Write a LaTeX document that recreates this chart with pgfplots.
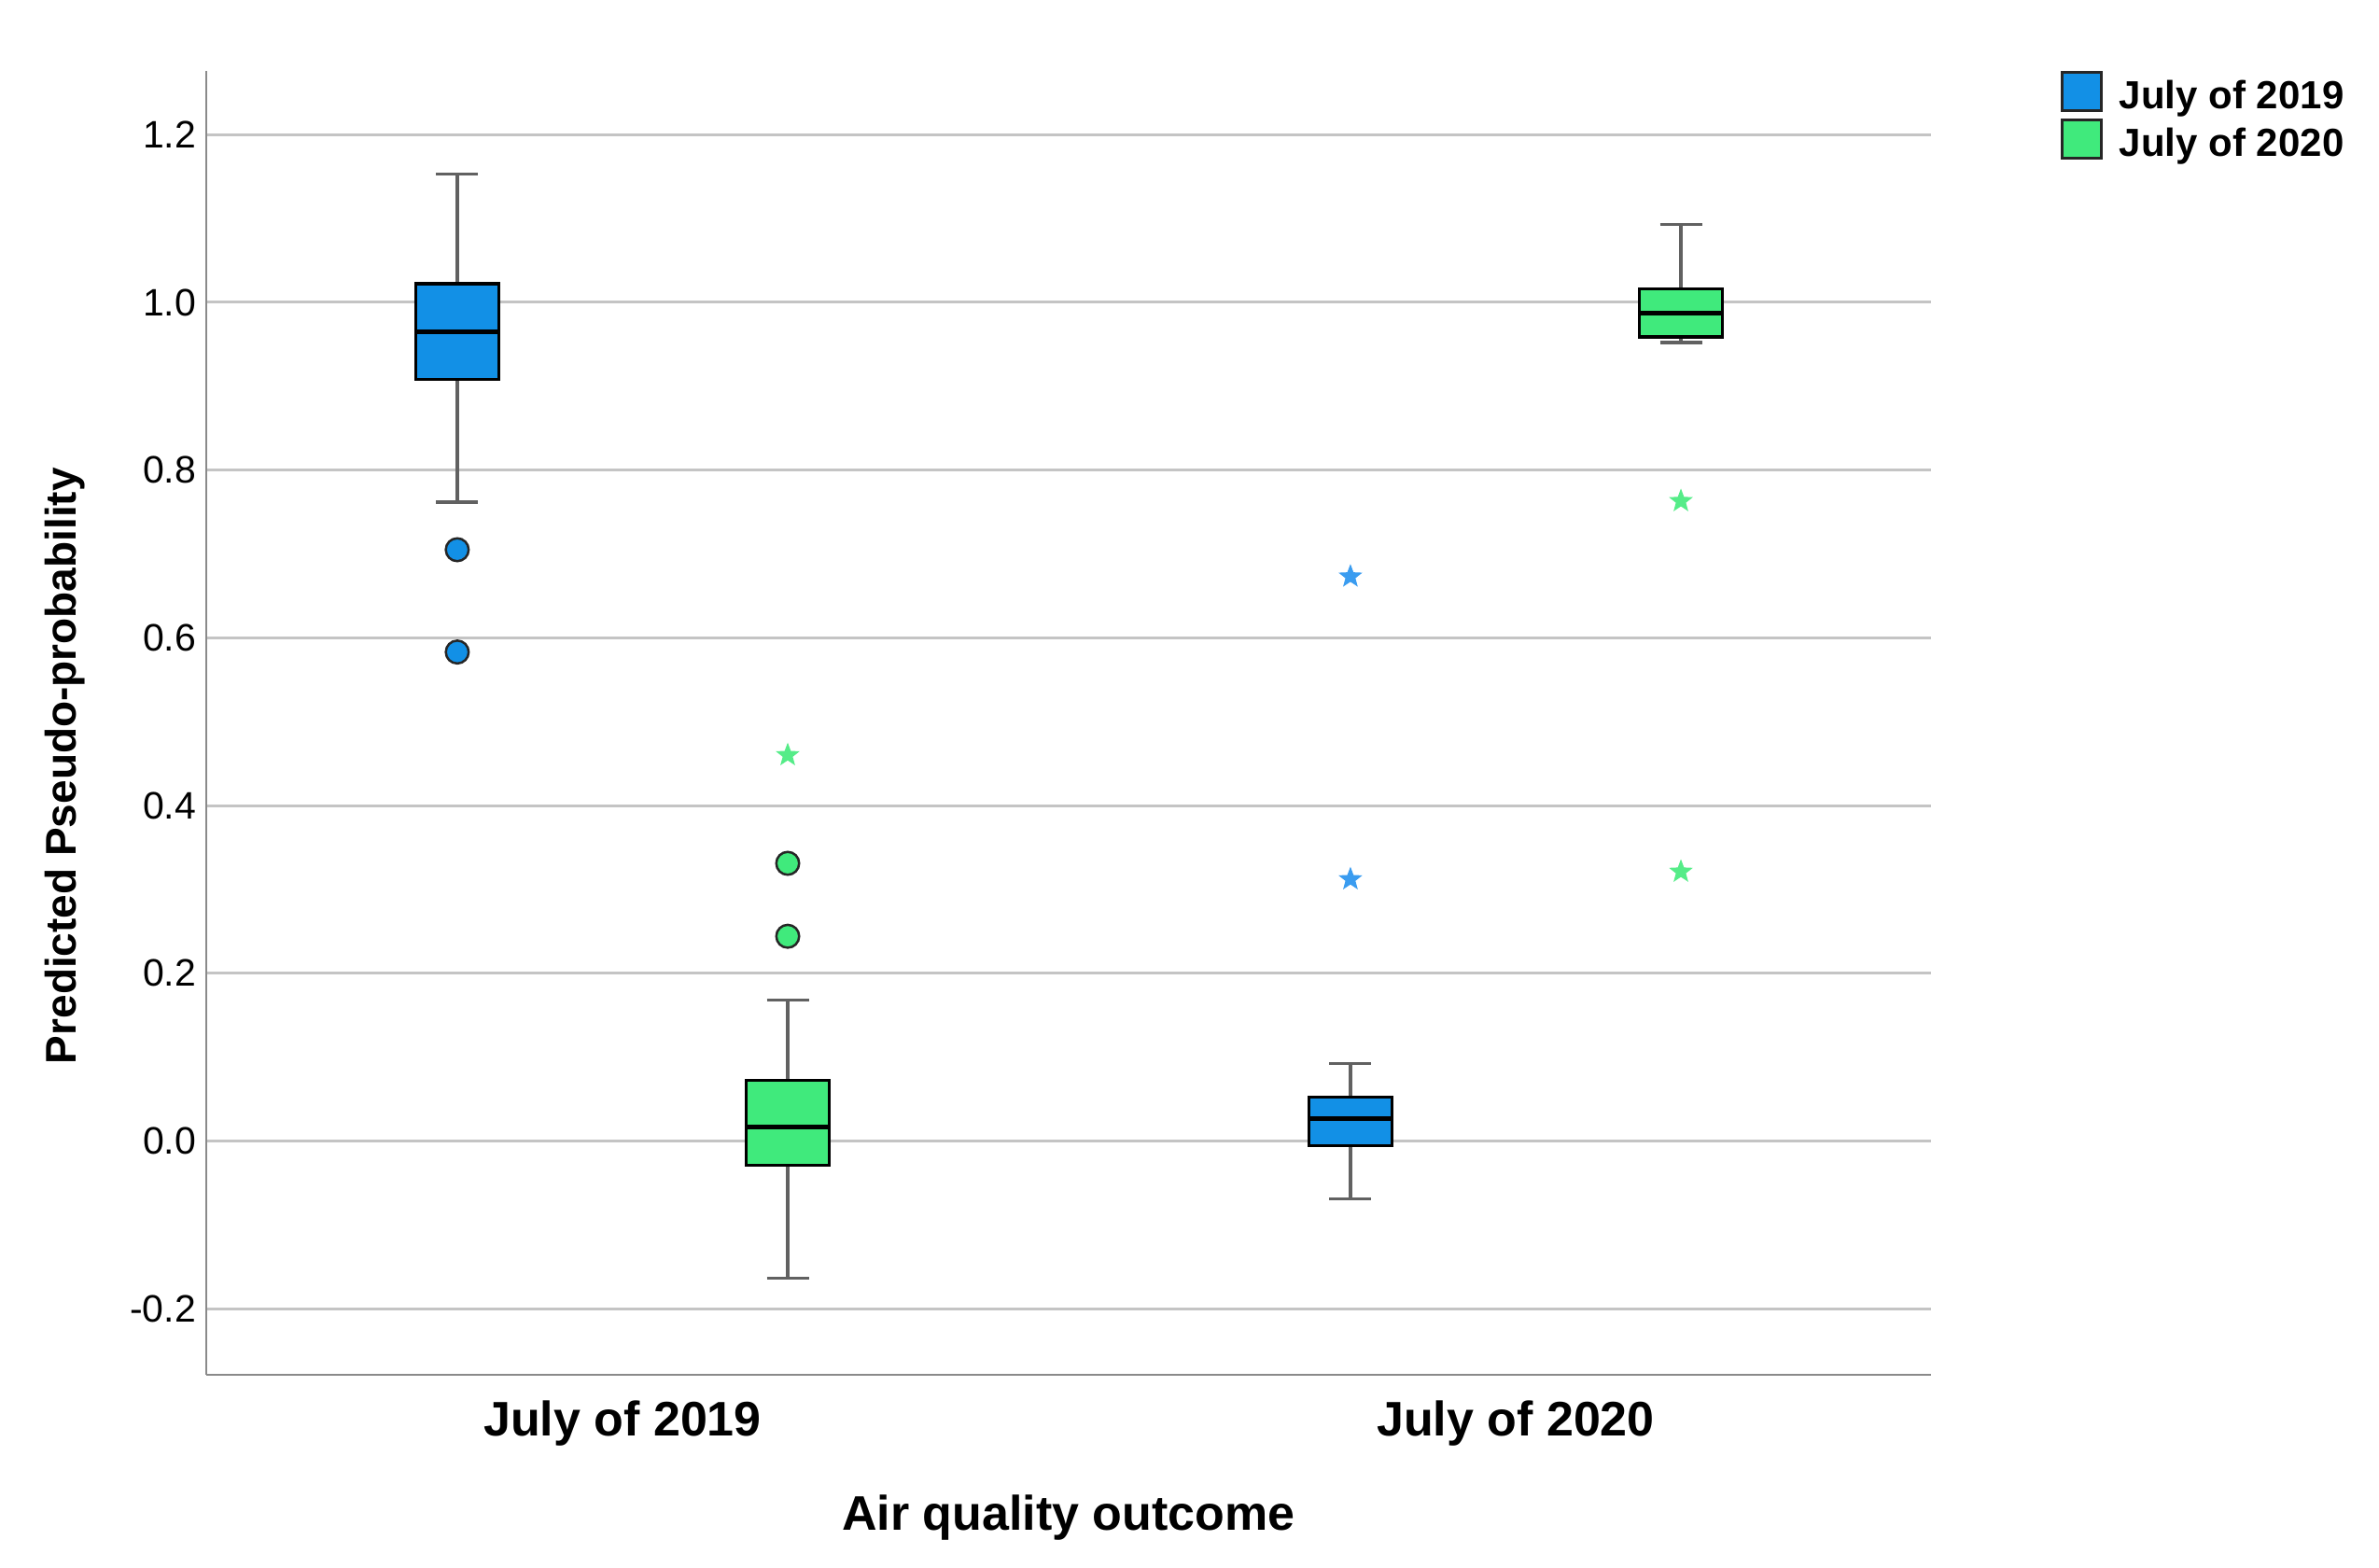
\documentclass[border=0pt]{standalone}
\usepackage{fontspec}
\setmainfont{Liberation Sans}
\usepackage{pgfplots}
\pgfplotsset{compat=1.18}
\usepgfplotslibrary{statistics}
\definecolor{cA}{HTML}{1290E6}
\definecolor{cB}{HTML}{40EA7C}
\definecolor{cAs}{HTML}{3A9CF0}
\definecolor{cBs}{HTML}{55EC88}
\definecolor{gridc}{HTML}{C4C4C4}
\definecolor{axc}{HTML}{8A8A8A}
\pgfdeclareplotmark{fstar}{%
  \pgfpathmoveto{\pgfqpointpolar{90}{\pgfplotmarksize}}%
  \pgfpathlineto{\pgfqpointpolar{126}{0.42\pgfplotmarksize}}%
  \pgfpathlineto{\pgfqpointpolar{162}{\pgfplotmarksize}}%
  \pgfpathlineto{\pgfqpointpolar{198}{0.42\pgfplotmarksize}}%
  \pgfpathlineto{\pgfqpointpolar{234}{\pgfplotmarksize}}%
  \pgfpathlineto{\pgfqpointpolar{270}{0.42\pgfplotmarksize}}%
  \pgfpathlineto{\pgfqpointpolar{306}{\pgfplotmarksize}}%
  \pgfpathlineto{\pgfqpointpolar{342}{0.42\pgfplotmarksize}}%
  \pgfpathlineto{\pgfqpointpolar{18}{\pgfplotmarksize}}%
  \pgfpathlineto{\pgfqpointpolar{54}{0.42\pgfplotmarksize}}%
  \pgfpathclose
  \pgfusepathqfillstroke
}
\begin{document}
\begin{tikzpicture}
\begin{axis}[
  name=ax, at={(0,0)}, anchor=south west,
  scale only axis, width=369.6pt, height=279.4pt,
  xmin=-0.466, xmax=1.465, ymin=-0.279, ymax=1.276,
  axis x line=bottom, axis y line=left,
  axis line style={draw=axc, line width=0.55pt, -},
  xtick={0,1}, xticklabels={July of 2019, July of 2020},
  ytick={-0.2,0,0.2,0.4,0.6,0.8,1.0,1.2},
  yticklabels={-0.2,0.0,0.2,0.4,0.6,0.8,1.0,1.2},
  major tick length=0pt,
  ymajorgrids, grid style={draw=gridc, line width=0.6pt},
  xticklabel style={font=\fontsize{10.4}{12}\selectfont\bfseries, anchor=base, yshift=-13pt},
  yticklabel style={font=\fontsize{8.2}{10}\selectfont, anchor=east, inner sep=0pt, xshift=-2pt},
  every axis y label/.style={at={(axis description cs:-0.0817,0.467)}, rotate=90, anchor=center, font=\fontsize{9.2}{11}\selectfont\bfseries},
  every axis x label/.style={at={(axis description cs:0.5,0)}, anchor=base, yshift=-33.2pt, font=\fontsize{10.4}{12}\selectfont\bfseries},
  ylabel={Predicted Pseudo-probability},
  xlabel={Air quality outcome},
  boxplot/draw direction=y,
  boxplot/every box/.style={draw=black, line width=0.7pt},
  boxplot/every median/.style={draw=black, line width=1pt},
  boxplot/every whisker/.style={draw=black!62, line width=0.7pt},
  legend style={at={(axis description cs:1.0752,1)}, anchor=north west, draw=none, fill=none,
    inner sep=0pt, outer sep=0pt, row sep=0pt,
    font=\fontsize{8.4}{10}\selectfont\bfseries,
    nodes={inner sep=0pt, text height=6.5pt, text depth=2pt},
    cells={anchor=base west},
    /tikz/every odd column/.append style={column sep=3.6pt}},
]
\addplot[forget plot, fill=cA, draw=black, mark=*, mark size=2.45pt,
  mark options={fill=cA, draw=black!85, line width=0.5pt},
  boxplot prepared={draw position=-0.185, lower whisker=0.762, lower quartile=0.908,
    median=0.965, upper quartile=1.022, upper whisker=1.153, box extend=0.093, whisker extend=0.047}]
  coordinates {(0,0.705) (0,0.583)};
\addplot[forget plot, fill=cB, draw=black, mark=*, mark size=2.45pt,
  mark options={fill=cB, draw=black!85, line width=0.5pt},
  boxplot prepared={draw position=0.185, lower whisker=-0.164, lower quartile=-0.029,
    median=0.016, upper quartile=0.072, upper whisker=0.168, box extend=0.093, whisker extend=0.047}]
  coordinates {(0,0.331) (0,0.244)};
\addplot[forget plot, fill=cA, draw=black,
  boxplot prepared={draw position=0.815, lower whisker=-0.069, lower quartile=-0.0055,
    median=0.0265, upper quartile=0.052, upper whisker=0.092, box extend=0.093, whisker extend=0.047}]
  coordinates {};
\addplot[forget plot, fill=cB, draw=black,
  boxplot prepared={draw position=1.185, lower whisker=0.952, lower quartile=0.959,
    median=0.9875, upper quartile=1.016, upper whisker=1.093, box extend=0.093, whisker extend=0.047}]
  coordinates {};
\addplot[forget plot, only marks, mark=fstar, mark size=2.4pt,
  mark options={fill=cAs, draw=cAs, line width=0.2pt}]
  coordinates {(0.815,0.673) (0.815,0.312)};
\addplot[forget plot, only marks, mark=fstar, mark size=2.4pt,
  mark options={fill=cBs, draw=cBs, line width=0.2pt}]
  coordinates {(0.185,0.46) (1.185,0.763) (1.185,0.321)};
\addlegendimage{legend image code/.code={\draw[fill=cA, draw=black!85, line width=0.6pt] (0pt,-0.4pt) rectangle (8.4pt,7.8pt);}}
\addlegendentry{July of 2019}
\addlegendimage{legend image code/.code={\draw[fill=cB, draw=black!85, line width=0.6pt] (0pt,-0.4pt) rectangle (8.4pt,7.8pt);}}
\addlegendentry{July of 2020}
\end{axis}
\pgfresetboundingbox
\path (-44.2pt,-41.2pt) rectangle (465.6pt,294.6pt);
\end{tikzpicture}
\end{document}
